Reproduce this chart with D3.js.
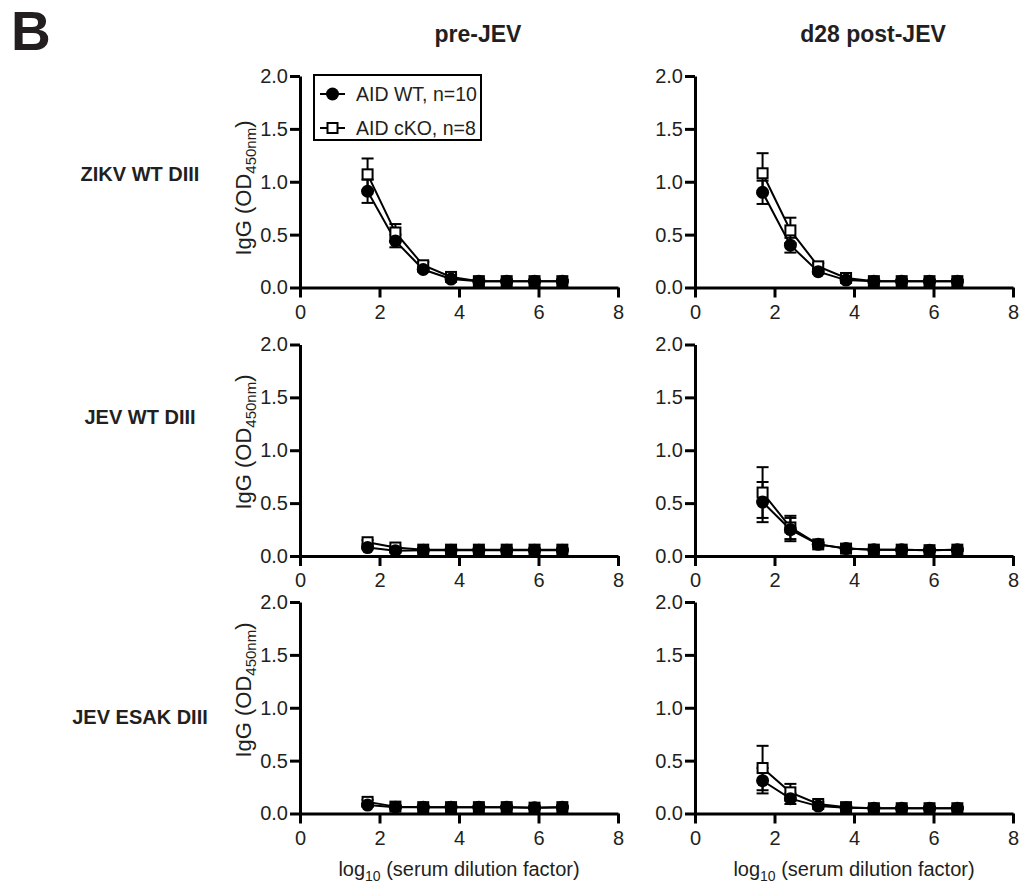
<!DOCTYPE html>
<html>
<head>
<meta charset="utf-8">
<script src="https://cdn.jsdelivr.net/npm/d3@7"></script>
<style>
  body { margin: 0; background: #fff; }
  svg text { font-family: "Liberation Sans", Arial, sans-serif; fill: #231f20; }
</style>
</head>
<body>
<svg id="fig" width="1020" height="888"></svg>
<script>
// x values: log10 of 5-fold serum dilutions starting at 1:50
const dilutionLog = [1.7, 2.4, 3.1, 3.8, 4.5, 5.2, 5.9, 6.6];
const antigens = ["ZIKV WT DIII", "JEV WT DIII", "JEV ESAK DIII"];
const timepoints = ["pre-JEV", "d28 post-JEV"];
const groups = ["AID WT, n=10", "AID cKO, n=8"];
const xTicks = [0, 2, 4, 6, 8];
const yTicks = [0, 0.5, 1.0, 1.5, 2.0];

// mean and SEM
const zikvPreWT     = [0.91, 0.44, 0.17, 0.08, 0.06, 0.06, 0.06, 0.06];
const zikvPreWTErr  = [0.11, 0.06, 0.02, 0.01, 0.01, 0.01, 0.01, 0.01];
const zikvPreKO     = [1.07, 0.52, 0.21, 0.10, 0.06, 0.06, 0.06, 0.06];
const zikvPreKOErr  = [0.15, 0.08, 0.03, 0.02, 0.01, 0.01, 0.01, 0.01];
const zikvPostWT    = [0.90, 0.40, 0.15, 0.07, 0.06, 0.06, 0.06, 0.06];
const zikvPostWTErr = [0.11, 0.07, 0.02, 0.01, 0.01, 0.01, 0.01, 0.01];
const zikvPostKO    = [1.08, 0.54, 0.20, 0.09, 0.06, 0.06, 0.06, 0.06];
const zikvPostKOErr = [0.19, 0.12, 0.03, 0.02, 0.01, 0.01, 0.01, 0.01];

const jevPreWT      = [0.08, 0.05, 0.055, 0.055, 0.055, 0.055, 0.055, 0.055];
const jevPreWTErr   = [0.01, 0.01, 0.01, 0.01, 0.01, 0.01, 0.01, 0.01];
const jevPreKO      = [0.13, 0.08, 0.06, 0.06, 0.06, 0.06, 0.06, 0.06];
const jevPreKOErr   = [0.02, 0.01, 0.01, 0.01, 0.01, 0.01, 0.01, 0.01];
const jevPostWT     = [0.51, 0.25, 0.11, 0.07, 0.06, 0.06, 0.055, 0.06];
const jevPostWTErr  = [0.19, 0.11, 0.02, 0.01, 0.01, 0.01, 0.01, 0.01];
const jevPostKO     = [0.60, 0.27, 0.11, 0.07, 0.06, 0.06, 0.055, 0.06];
const jevPostKOErr  = [0.24, 0.11, 0.02, 0.01, 0.01, 0.01, 0.01, 0.01];

const esakPreWT     = [0.08, 0.06, 0.06, 0.06, 0.06, 0.06, 0.055, 0.06];
const esakPreWTErr  = [0.01, 0.01, 0.01, 0.01, 0.01, 0.01, 0.01, 0.01];
const esakPreKO     = [0.11, 0.065, 0.06, 0.06, 0.06, 0.06, 0.055, 0.06];
const esakPreKOErr  = [0.02, 0.01, 0.01, 0.01, 0.01, 0.01, 0.01, 0.01];
const esakPostWT    = [0.31, 0.14, 0.07, 0.055, 0.05, 0.05, 0.05, 0.05];
const esakPostWTErr = [0.12, 0.05, 0.01, 0.01, 0.01, 0.01, 0.01, 0.01];
const esakPostKO    = [0.43, 0.20, 0.09, 0.06, 0.05, 0.05, 0.05, 0.05];
const esakPostKOErr = [0.21, 0.08, 0.02, 0.01, 0.01, 0.01, 0.01, 0.01];

// panels[row][col] = [wt, wtErr, ko, koErr]
const panels = [
  [[zikvPreWT, zikvPreWTErr, zikvPreKO, zikvPreKOErr], [zikvPostWT, zikvPostWTErr, zikvPostKO, zikvPostKOErr]],
  [[jevPreWT, jevPreWTErr, jevPreKO, jevPreKOErr], [jevPostWT, jevPostWTErr, jevPostKO, jevPostKOErr]],
  [[esakPreWT, esakPreWTErr, esakPreKO, esakPreKOErr], [esakPostWT, esakPostWTErr, esakPostKO, esakPostKOErr]]
];

// layout
const colX = [300, 695], rowY = [76, 344.5, 602];
const pw = 318, ph = 211.5;
const ylabelY = [188, 442, 690];
const rowLabelY = [181, 424, 724];
const ms = 12; // marker size

const svg = d3.select("#fig");

svg.append("text").attr("x", 11).attr("y", 50)
  .attr("font-size", 55).attr("font-weight", "bold").text("B");

const x = d3.scaleLinear().domain([0, 8]).range([0, pw]);
const y = d3.scaleLinear().domain([0, 2]).range([ph, 0]);

const line = d3.line().x((d, i) => x(dilutionLog[i])).y(d => y(d));

timepoints.forEach((t, c) => {
  svg.append("text").attr("x", colX[c] + pw / 2 + 19).attr("y", 42)
    .attr("text-anchor", "middle").attr("font-size", 23).attr("font-weight", "bold").text(t);

  const xt = svg.append("text").attr("x", colX[c] + pw / 2).attr("y", 876)
    .attr("text-anchor", "middle").attr("font-size", 20);
  xt.append("tspan").text("log");
  xt.append("tspan").attr("font-size", 14).attr("dy", 5).text("10");
  xt.append("tspan").attr("dy", -5).text(" (serum dilution factor)");
});

antigens.forEach((a, r) => {
  svg.append("text").attr("x", 140).attr("y", rowLabelY[r])
    .attr("text-anchor", "middle").attr("font-size", 20).attr("font-weight", "bold")
    .text(a);

  const yl = svg.append("text")
    .attr("transform", "translate(" + 251 + "," + ylabelY[r] + ") rotate(-90)")
    .attr("text-anchor", "middle").attr("font-size", 22);
  yl.append("tspan").text("IgG (OD");
  yl.append("tspan").attr("font-size", 15).attr("dy", 5).text("450nm");
  yl.append("tspan").attr("dy", -5).text(")");

  timepoints.forEach((t, c) => {
    const g = svg.append("g").attr("transform", "translate(" + colX[c] + "," + rowY[r] + ")");
    const [wt, wtErr, ko, koErr] = panels[r][c];

    // axes
    const ax = g.append("g").attr("transform", "translate(0," + ph + ")")
      .call(d3.axisBottom(x).tickValues(xTicks).tickSize(10).tickSizeOuter(0).tickPadding(7).tickFormat(d3.format("d")));
    const ay = g.append("g")
      .call(d3.axisLeft(y).tickValues(yTicks).tickSize(10).tickSizeOuter(0).tickPadding(2).tickFormat(d3.format(".1f")));
    [ax, ay].forEach(a => {
      a.select(".domain").attr("stroke", "#000").attr("stroke-width", 3);
      a.selectAll(".tick line").attr("stroke", "#000").attr("stroke-width", 3);
      a.selectAll(".tick text").attr("font-size", 20).attr("fill", "#231f20")
        .attr("font-family", "'Liberation Sans', Arial, sans-serif");
    });

    // error bars
    [[wt, wtErr], [ko, koErr]].forEach(([m, e]) => {
      const eb = g.append("g").attr("stroke", "#000").attr("stroke-width", 2);
      m.forEach((v, i) => {
        const cx = x(dilutionLog[i]);
        eb.append("line").attr("x1", cx).attr("x2", cx).attr("y1", y(v - e[i])).attr("y2", y(v + e[i]));
        eb.append("line").attr("x1", cx - 6).attr("x2", cx + 6).attr("y1", y(v - e[i])).attr("y2", y(v - e[i]));
        eb.append("line").attr("x1", cx - 6).attr("x2", cx + 6).attr("y1", y(v + e[i])).attr("y2", y(v + e[i]));
      });
    });

    g.append("path").attr("d", line(ko)).attr("fill", "none").attr("stroke", "#000").attr("stroke-width", 2);
    g.append("path").attr("d", line(wt)).attr("fill", "none").attr("stroke", "#000").attr("stroke-width", 2);

    g.selectAll(".sq").data(ko).enter().append("rect")
      .attr("x", (d, i) => x(dilutionLog[i]) - ms / 2 + 1).attr("y", d => y(d) - ms / 2 + 1)
      .attr("width", ms - 2).attr("height", ms - 2)
      .attr("fill", "#fff").attr("stroke", "#000").attr("stroke-width", 2);
    g.selectAll(".ci").data(wt).enter().append("circle")
      .attr("cx", (d, i) => x(dilutionLog[i])).attr("cy", d => y(d)).attr("r", 6.5)
      .attr("fill", "#000");
  });
});

// legend
const lg = svg.append("g").attr("transform", "translate(314,75)");
lg.append("rect").attr("width", 167).attr("height", 65)
  .attr("fill", "#fff").attr("stroke", "#000").attr("stroke-width", 2);
groups.forEach((name, i) => {
  const ly = 19 + i * 34;
  lg.append("line").attr("x1", 6).attr("x2", 31).attr("y1", ly).attr("y2", ly)
    .attr("stroke", "#000").attr("stroke-width", 2);
  if (i === 0) {
    lg.append("circle").attr("cx", 18.5).attr("cy", ly).attr("r", 6.5).attr("fill", "#000");
  } else {
    lg.append("rect").attr("x", 13.5).attr("y", ly - 5).attr("width", 10).attr("height", 10)
      .attr("fill", "#fff").attr("stroke", "#000").attr("stroke-width", 2);
  }
  lg.append("text").attr("x", 42).attr("y", ly + 7).attr("font-size", 19.5).text(name);
});
</script>
</body>
</html>
